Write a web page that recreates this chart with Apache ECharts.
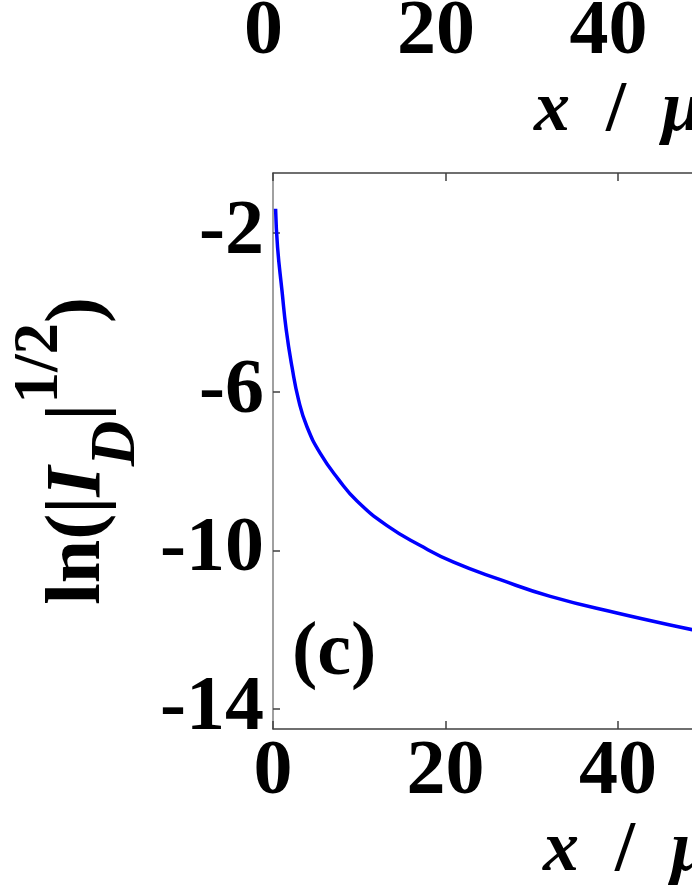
<!DOCTYPE html>
<html>
<head>
<meta charset="utf-8">
<script src="https://cdn.jsdelivr.net/npm/echarts@6/dist/echarts.min.js"></script>
<style>
  html, body { margin: 0; padding: 0; background: #fff; }
  #chart { width: 692px; height: 896px; }
</style>
</head>
<body>
<div id="chart"></div>
<script>
// panel (c): ln(|I_D|^1/2) against x
var xValues = [0.3, 0.53, 1.04, 1.54, 2.2, 2.97, 3.94, 5.48, 7.61, 9.74, 13.22, 17.08, 20.94, 26.35, 32.15, 39.88, 48.61, 52];
var yValues = [-1.4, -2.37, -3.46, -4.46, -5.38, -6.22, -6.89, -7.56, -8.22, -8.76, -9.38, -9.88, -10.3, -10.74, -11.16, -11.58, -12.0, -12.15];
var yTickValues = [-14, -10, -6, -2];
var xMin = 0, xMax = 100, xStep = 20;
var yMin = -14.5, yMax = -0.5;

var FONT = "'Liberation Serif', 'Times New Roman', serif";
var labelStyle = { fontSize: 78, fontWeight: "bold", fontFamily: FONT, color: "#000" };

var curve = xValues.map(function (x, i) { return [x, yValues[i]]; });

var nameRich = {
  i: { fontSize: 72, fontWeight: "bold", fontStyle: "italic", fontFamily: FONT, color: "#000" },
  n: { fontSize: 72, fontWeight: "bold", fontFamily: FONT, color: "#000" }
};

var chart = echarts.init(document.getElementById("chart"));
chart.setOption({
  animation: false,
  backgroundColor: "#fff",
  title: [
    // axis name of the panel above, only its left part is in the crop
    { text: "{i|x}{n|  /  }{i|μm}", left: 529, top: 70, textStyle: { rich: nameRich } },
    { text: "{i|x}{n|  /  }{i|μm}", left: 538, top: 810, textStyle: { rich: nameRich } },
    {
      text: "(c)",
      left: 287, top: 611,
      textStyle: { fontSize: 76, fontWeight: "bold", fontFamily: FONT, color: "#000" }
    }
  ],
  grid: [
    { left: 273, top: 173, height: 556, width: 862.5, outerBoundsMode: "none", containLabel: false },
    { left: 263.5, top: -500, height: 489, width: 862.5, outerBoundsMode: "none", containLabel: false }
  ],
  xAxis: [
    {
      gridIndex: 0, type: "value", position: "bottom",
      min: xMin, max: xMax, interval: xStep,
      axisLine: { lineStyle: { color: "#404040", width: 1.5 } },
      axisTick: { inside: true, length: 8, lineStyle: { color: "#404040", width: 1.5 } },
      axisLabel: Object.assign({ margin: 5 }, labelStyle),
      splitLine: { show: false }
    },
    {
      gridIndex: 0, type: "value", position: "top",
      min: xMin, max: xMax, interval: xStep,
      axisLine: { lineStyle: { color: "#404040", width: 1.5 } },
      axisTick: { inside: true, length: 8, lineStyle: { color: "#404040", width: 1.5 } },
      axisLabel: { show: false },
      splitLine: { show: false }
    },
    {
      gridIndex: 1, type: "value", position: "bottom",
      min: xMin, max: xMax, interval: xStep,
      axisLine: { show: false },
      axisTick: { show: false },
      axisLabel: Object.assign({ margin: 5 }, labelStyle),
      splitLine: { show: false }
    }
  ],
  yAxis: [
    {
      gridIndex: 0, type: "value",
      min: yMin, max: yMax,
      axisLine: { show: true, lineStyle: { color: "#808080", width: 1.5 } },
      axisTick: { show: true, inside: true, length: 7, customValues: yTickValues,
                  lineStyle: { color: "#404040", width: 1.5 } },
      axisLabel: Object.assign({ margin: 9, customValues: yTickValues }, labelStyle),
      splitLine: { show: false },
      name: "{a|ln(|}{i|I}{sub|D}{a||}{sup|1/2}{a|)}",
      nameLocation: "middle",
      nameGap: 123,
      nameTextStyle: {
        lineHeight: 140,
        rich: {
          a: { fontSize: 78, fontWeight: "bold", fontFamily: FONT, color: "#000", verticalAlign: "middle" },
          i: { fontSize: 78, fontWeight: "bold", fontStyle: "italic", fontFamily: FONT, color: "#000", verticalAlign: "middle" },
          sub: { fontSize: 63, fontWeight: "bold", fontStyle: "italic", fontFamily: FONT, color: "#000", verticalAlign: "bottom" },
          sup: { fontSize: 63, fontWeight: "bold", fontFamily: FONT, color: "#000", verticalAlign: "top" }
        }
      }
    },
    { gridIndex: 1, type: "value", show: false }
  ],
  series: [
    {
      type: "line",
      xAxisIndex: 0, yAxisIndex: 0,
      data: curve,
      smooth: true,
      showSymbol: false,
      lineStyle: { color: "#0000ff", width: 3.5 }
    }
  ]
});
</script>
</body>
</html>
